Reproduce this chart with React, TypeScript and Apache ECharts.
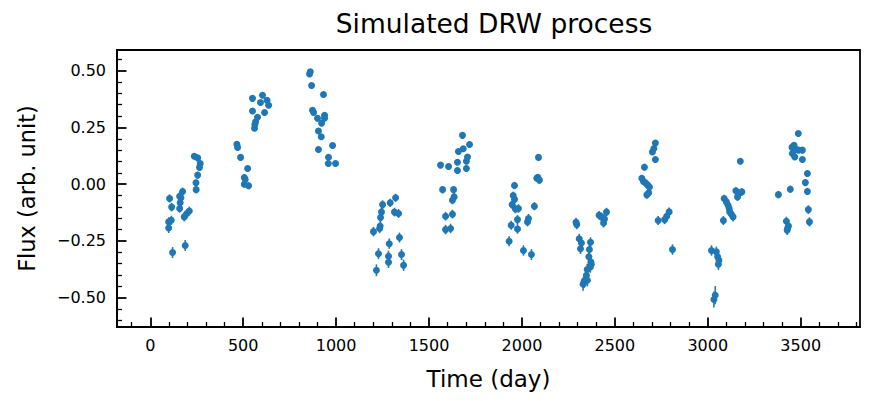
import React, { useEffect, useRef } from "react";
import * as echarts from "echarts";

// Observation epochs (day), flux (arb. unit) and 1-sigma flux errors
const times = [
  99, 99, 104, 113, 115, 120, 158, 158, 161, 165, 174, 183, 188, 197, 210, 237, 246, 247, 255, 255, 265, 269,
  466, 470, 486, 506, 506, 511, 524, 529, 550, 550, 561, 563, 567, 577, 593, 604, 615, 628, 637,
  857, 861, 868, 873, 879, 900, 905, 905, 920, 922, 932, 938, 938, 958, 959, 981, 997,
  1201, 1217, 1228, 1234, 1237, 1239, 1244, 1250, 1282, 1282, 1286, 1291, 1314, 1320, 1336, 1341, 1352, 1363,
  1562, 1573, 1589, 1589, 1605, 1616, 1626, 1626, 1632, 1635, 1653, 1653, 1658, 1680, 1684, 1701, 1701, 1707, 1718,
  1931, 1942, 1947, 1953, 1960, 1960, 1965, 1976, 1976, 1981, 2008, 2030, 2035, 2051, 2067, 2080, 2085, 2089, 2094,
  2291, 2295, 2308, 2315, 2320, 2329, 2334, 2338, 2347, 2351, 2352, 2360, 2363, 2369, 2371, 2373, 2368, 2415, 2428, 2439, 2444, 2455,
  2645, 2654, 2659, 2664, 2672, 2675, 2682, 2686, 2702, 2710, 2718, 2718, 2733, 2768, 2779, 2792, 2810,
  3020, 3033, 3040, 3046, 3053, 3057, 3060, 3084, 3088, 3100, 3109, 3115, 3118, 3127, 3136, 3151, 3160, 3168, 3175, 3183,
  3380, 3423, 3427, 3430, 3434, 3444, 3453, 3455, 3464, 3468, 3477, 3487, 3487, 3509, 3509, 3525, 3536, 3536, 3541, 3547,
];

const flux = [
  -0.193, -0.166, -0.063, -0.159, -0.101, -0.301, -0.053, -0.107, -0.082, -0.06, -0.032, -0.144, -0.27, -0.129, -0.118, 0.123, 0.006, -0.024, 0.116, 0.04, 0.074, 0.091,
  0.176, 0.162, 0.118, 0.029, 0.0, 0.021, 0.069, -0.007, 0.378, 0.322, 0.246, 0.263, 0.275, 0.295, 0.36, 0.392, 0.316, 0.37, 0.348,
  0.485, 0.495, 0.435, 0.326, 0.316, 0.29, 0.234, 0.153, 0.209, 0.268, 0.395, 0.304, 0.29, 0.091, 0.119, 0.17, 0.091,
  -0.209, -0.379, -0.306, -0.195, -0.184, -0.147, -0.123, -0.09, -0.317, -0.344, -0.262, -0.082, -0.123, -0.06, -0.129, -0.235, -0.31, -0.357,
  0.084, -0.024, -0.141, -0.2, 0.078, -0.195, -0.132, -0.071, -0.024, -0.056, 0.097, 0.06, 0.144, 0.215, 0.156, 0.101, 0.069, 0.12, 0.175,
  -0.251, -0.181, -0.09, -0.05, -0.006, -0.067, -0.109, -0.156, -0.197, -0.107, -0.292, -0.166, -0.151, -0.31, -0.097, 0.026, 0.03, 0.118, 0.018,
  -0.168, -0.178, -0.24, -0.284, -0.259, -0.441, -0.43, -0.423, -0.401, -0.376, -0.423, -0.32, -0.288, -0.256, -0.343, -0.353, -0.365, -0.137, -0.144, -0.171, -0.153, -0.123,
  0.026, 0.012, 0.075, 0.006, -0.047, -0.003, -0.038, -0.012, 0.142, 0.157, 0.181, 0.109, -0.16, -0.156, -0.141, -0.122, -0.288,
  -0.292, -0.508, -0.489, -0.298, -0.32, -0.353, -0.335, -0.16, -0.063, -0.078, -0.093, -0.107, -0.122, -0.132, -0.144, -0.029, -0.056, -0.041, 0.101, -0.034,
  -0.046, -0.163, -0.203, -0.193, -0.184, -0.022, 0.162, 0.135, 0.171, 0.12, 0.153, 0.15, 0.223, 0.15, 0.109, 0.007, 0.047, -0.032, -0.112, -0.166,
];

const fluxErr = [
  0.022, 0.02, 0.018, 0.02, 0.019, 0.024, 0.018, 0.019, 0.019, 0.018, 0.017, 0.02, 0.024, 0.02, 0.019, 0.013, 0.015, 0.016, 0.013, 0.015, 0.014, 0.014,
  0.012, 0.012, 0.013, 0.014, 0.015, 0.014, 0.014, 0.015, 0.01, 0.011, 0.011, 0.011, 0.011, 0.011, 0.01, 0.01, 0.011, 0.01, 0.01,
  0.01, 0.01, 0.01, 0.011, 0.011, 0.011, 0.011, 0.012, 0.012, 0.011, 0.01, 0.011, 0.011, 0.013, 0.013, 0.012, 0.013,
  0.021, 0.026, 0.024, 0.021, 0.02, 0.02, 0.019, 0.019, 0.024, 0.025, 0.023, 0.018, 0.019, 0.018, 0.02, 0.022, 0.024, 0.025,
  0.013, 0.016, 0.019, 0.021, 0.013, 0.021, 0.019, 0.017, 0.016, 0.017, 0.013, 0.014, 0.012, 0.012, 0.012, 0.013, 0.014, 0.013, 0.012,
  0.022, 0.02, 0.018, 0.017, 0.016, 0.017, 0.019, 0.02, 0.021, 0.019, 0.023, 0.02, 0.02, 0.024, 0.018, 0.015, 0.015, 0.013, 0.015,
  0.02, 0.02, 0.022, 0.023, 0.023, 0.028, 0.027, 0.027, 0.027, 0.026, 0.027, 0.024, 0.023, 0.022, 0.025, 0.025, 0.025, 0.019, 0.019, 0.02, 0.02, 0.019,
  0.014, 0.015, 0.014, 0.015, 0.016, 0.015, 0.016, 0.015, 0.012, 0.012, 0.012, 0.013, 0.02, 0.02, 0.019, 0.019, 0.023,
  0.023, 0.035, 0.04, 0.023, 0.024, 0.025, 0.025, 0.02, 0.017, 0.018, 0.018, 0.019, 0.019, 0.019, 0.02, 0.016, 0.017, 0.016, 0.013, 0.016,
  0.016, 0.02, 0.021, 0.021, 0.02, 0.016, 0.012, 0.012, 0.012, 0.013, 0.012, 0.012, 0.011, 0.012, 0.013, 0.015, 0.014, 0.016, 0.019, 0.02,
];

// Axis ranges and labelled tick positions
const xRange = [-179, 3819];
const yRange = [-0.629, 0.591];
const xMajorTicks = [0, 500, 1000, 1500, 2000, 2500, 3000, 3500];
const yMajorTicks = [-0.5, -0.25, 0, 0.25, 0.5];

const FONT = "DejaVu Sans";
const BLUE = "#1f77b4";
const INK = "#000000";

function minorValues(from: number, to: number, step: number, major: number[]): number[] {
  const out: number[] = [];
  const n = Math.round((to - from) / step);
  for (let i = 0; i <= n; i++) {
    const v = Math.round((from + i * step) * 1000) / 1000;
    if (!major.some((m) => Math.abs(m - v) < 1e-9)) out.push(v);
  }
  return out;
}

const fmtY = (v: number) => {
  const s = Math.abs(v).toFixed(2);
  return v < -1e-9 ? "\u2212" + s : s;
};

export default function App() {
  const ref = useRef<HTMLDivElement>(null);

  useEffect(() => {
    if (!ref.current) return;
    const chart = echarts.init(ref.current, null, { renderer: "svg" });

    const points = times.map((t, i) => [t, flux[i]]);
    const bars = times.map((t, i) => [t, flux[i] - fluxErr[i], flux[i] + fluxErr[i]]);

    const xMinor = minorValues(-100, 3800, 100, xMajorTicks);
    const yMinor = minorValues(-0.6, 0.55, 0.05, yMajorTicks);

    const majorTick = (values: number[]) => ({
      show: true,
      inside: true,
      length: 9.5,
      customValues: values,
      lineStyle: { color: INK, width: 1.8 },
    });
    const minorTick = (values: number[]) => ({
      show: true,
      inside: true,
      length: 5,
      customValues: values,
      lineStyle: { color: INK, width: 1.3 },
    });

    chart.setOption({
      animation: false,
      backgroundColor: "#ffffff",
      title: {
        text: "Simulated DRW process",
        left: 489,
        textAlign: "center",
        top: 5,
        textStyle: { fontFamily: FONT, fontSize: 26.5, fontWeight: "normal", color: INK },
      },
      grid: {
        left: 117,
        top: 50,
        width: 743,
        height: 277,
        show: true,
        borderColor: INK,
        borderWidth: 1.8,
        backgroundColor: "transparent",
      },
      xAxis: [
        {
          type: "value",
          min: xRange[0],
          max: xRange[1],
          position: "bottom",
          name: "Time (day)",
          nameLocation: "middle",
          nameGap: 40,
          nameTextStyle: { fontFamily: FONT, fontSize: 23, color: INK },
          axisLine: { show: true, onZero: false, lineStyle: { color: INK, width: 1.8 } },
          axisTick: majorTick(xMajorTicks),
          axisLabel: {
            customValues: xMajorTicks,
            formatter: (v: number) => String(v),
            fontFamily: FONT,
            fontSize: 16,
            color: INK,
            margin: 10,
          },
          splitLine: { show: false },
        },
        {
          type: "value",
          min: xRange[0],
          max: xRange[1],
          position: "bottom",
          axisLine: { show: false, onZero: false },
          axisTick: minorTick(xMinor),
          axisLabel: { show: false },
          splitLine: { show: false },
        },
      ],
      yAxis: [
        {
          type: "value",
          min: yRange[0],
          max: yRange[1],
          position: "left",
          name: "Flux (arb. unit)",
          nameLocation: "middle",
          nameGap: 79,
          nameTextStyle: { fontFamily: FONT, fontSize: 22.5, color: INK },
          axisLine: { show: true, onZero: false, lineStyle: { color: INK, width: 1.8 } },
          axisTick: majorTick(yMajorTicks),
          axisLabel: {
            customValues: yMajorTicks,
            formatter: (v: number) => fmtY(v),
            fontFamily: FONT,
            fontSize: 16,
            color: INK,
            margin: 11,
          },
          splitLine: { show: false },
        },
        {
          type: "value",
          min: yRange[0],
          max: yRange[1],
          position: "left",
          axisLine: { show: false, onZero: false },
          axisTick: minorTick(yMinor),
          axisLabel: { show: false },
          splitLine: { show: false },
        },
      ],
      series: [
        {
          type: "custom",
          name: "error",
          xAxisIndex: 0,
          yAxisIndex: 0,
          data: bars,
          encode: { x: 0, y: [1, 2] },
          renderItem: (_params: any, api: any) => {
            const t = api.value(0);
            const lo = api.coord([t, api.value(1)]);
            const hi = api.coord([t, api.value(2)]);
            return {
              type: "line",
              shape: { x1: lo[0], y1: lo[1], x2: hi[0], y2: hi[1] },
              style: { stroke: BLUE, lineWidth: 1.6 },
            };
          },
          z: 2,
        },
        {
          type: "scatter",
          name: "flux",
          xAxisIndex: 0,
          yAxisIndex: 0,
          data: points,
          symbol: "circle",
          symbolSize: 7,
          itemStyle: { color: BLUE, opacity: 1 },
          z: 3,
        },
      ],
    });

    return () => chart.dispose();
  }, []);

  return (
    <div
      ref={ref}
      style={{ position: "fixed", left: 0, top: 0, width: 872, height: 401 }}
    />
  );
}
